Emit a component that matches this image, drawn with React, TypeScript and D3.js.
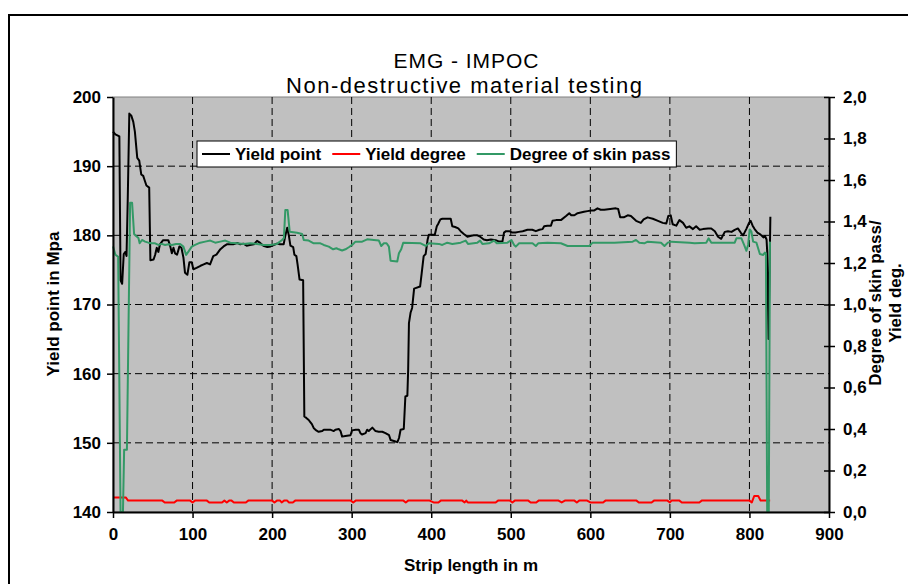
import React, { useRef, useEffect } from "react";
import * as d3 from "d3";

// strip length (m), yield point (Mpa) - left axis
const yieldPoint: [number, number][] = [
  [0, 195.0], [3, 194.6], [8, 194.3], [9.5, 173.5], [11.5, 173.0], [13.5, 177.3], [15.5, 177.6], [17, 177.0],
  [18.5, 185.0], [20.5, 197.6], [23, 197.3], [25.5, 196.4], [27.5, 195.0], [30.5, 191.2], [33, 190.8], [35.5, 188.8],
  [38, 188.6], [40, 187.9], [42, 187.2], [45.5, 186.9], [47, 176.4], [51, 176.5], [53, 177.2], [55, 178.2],
  [57, 177.6], [59, 178.7], [63, 179.3], [69.5, 179.3], [72, 178.4], [74, 177.4], [76, 178.2], [78, 177.4],
  [80.5, 177.2], [83.5, 178.4], [86, 178.2], [88.5, 176.8], [90.5, 174.6], [93.5, 174.3], [96, 176.1], [99, 176.1],
  [101, 175.1], [105, 175.3], [110, 175.6], [114, 175.8], [118, 176.0], [122, 175.8], [126, 177.0], [130, 177.2],
  [135, 178.0], [139, 178.4], [143, 178.7], [151, 178.7], [156, 178.9], [160, 178.7], [164, 178.8], [168, 178.5],
  [172, 178.6], [177, 178.7], [181, 179.2], [185, 178.9], [189, 178.5], [194, 178.3], [198, 178.4], [202, 178.6],
  [206, 178.8], [210, 178.7], [214.5, 178.7], [216.5, 179.9], [219, 181.1], [221, 180.0], [223, 178.5], [226.5, 178.3],
  [228, 177.2], [230.5, 177.0], [232, 175.8], [234.5, 173.6], [239, 173.5], [240.5, 153.8], [243, 153.6], [246, 153.3],
  [248, 153.0], [250, 152.7], [252.5, 152.1], [255.5, 151.8], [258.5, 151.6], [263, 151.7], [265, 151.9], [273, 151.9],
  [277.5, 151.7], [279.5, 151.9], [284, 152.0], [286, 151.7], [288, 150.9], [292, 151.0], [298.5, 151.1], [300.5, 151.8],
  [305, 151.9], [309, 151.9], [311, 151.4], [313, 151.2], [317.5, 151.4], [319.5, 151.9], [321.5, 151.7], [326, 152.2],
  [330, 151.7], [334, 151.6], [338.5, 151.6], [342.5, 151.4], [347, 151.1], [349, 150.4], [355, 150.2], [357.5, 150.1],
  [359.5, 150.7], [361.5, 151.9], [365.5, 152.0], [367.5, 156.7], [370, 156.8], [371, 160.5], [372, 167.3], [374, 168.8],
  [376, 169.5], [378.5, 172.3], [386, 172.6], [388, 174.5], [390.5, 177.0], [393, 177.3], [395.5, 179.4], [397, 180.1],
  [404.5, 180.1], [407, 181.3], [408.5, 181.6], [411.5, 182.3], [414, 182.4], [424.5, 182.4], [426.5, 181.3], [430, 181.2],
  [434, 181.0], [437, 180.6], [441, 180.2], [445.5, 179.8], [449, 179.9], [453.5, 180.0], [458, 180.0], [461.5, 179.8],
  [466, 179.4], [470, 179.3], [475, 179.4], [481, 179.3], [485.5, 179.1], [489.5, 179.1], [491.5, 180.4], [494, 180.6],
  [498, 180.6], [502, 180.4], [506, 180.4], [510, 180.5], [515, 180.6], [521, 180.8], [527, 180.8], [531.5, 180.6],
  [536, 180.8], [540, 180.9], [542, 181.3], [546, 181.4], [550.5, 181.4], [552.5, 182.1], [557, 182.2], [563, 182.2],
  [569.5, 182.8], [573.5, 183.2], [576, 182.9], [580, 182.9], [584, 183.2], [588, 183.3], [592, 183.4], [596.5, 183.5],
  [601, 183.6], [605, 183.6], [609, 183.9], [613, 183.7], [617.5, 183.7], [625, 183.8], [632, 183.9], [635, 183.8],
  [637.5, 182.6], [642, 182.6], [647, 182.9], [651, 182.8], [657.5, 182.1], [663.5, 181.8], [667, 182.3], [672, 182.6],
  [678.5, 182.4], [685, 182.1], [691, 181.8], [695.5, 181.7], [698, 182.8], [701, 182.9], [703.5, 181.6], [708, 181.4],
  [712, 182.2], [716.5, 181.8], [720.5, 181.1], [724.5, 181.3], [729, 180.9], [733, 181.3], [737.5, 180.8], [741.5, 180.9],
  [748, 181.0], [752, 181.0], [756.5, 180.6], [760.5, 179.8], [764.5, 179.5], [769, 180.5], [773, 180.6], [777.5, 180.5],
  [781.5, 180.8], [785.5, 181.0], [789, 180.4], [792, 180.0], [796, 180.9], [799.5, 181.8], [801.5, 182.1], [804, 181.4],
  [806.5, 180.9], [810, 180.4], [814, 180.1], [817.5, 179.7], [819.5, 179.9], [821.5, 179.4], [822.3, 177.7], [824, 165.0],
  [826.3, 182.7],
];

// strip length (m), yield degree - right axis
const yieldDegree: [number, number][] = [
  [0, 0.07], [16, 0.07], [19, 0.055], [62, 0.055], [65, 0.046], [77, 0.046], [80, 0.055], [97, 0.055],
  [100, 0.046], [103, 0.055], [118, 0.055], [121, 0.046], [137, 0.046], [140, 0.055], [143, 0.046], [146, 0.055],
  [149, 0.055], [152, 0.046], [167, 0.046], [170, 0.055], [200, 0.055], [203, 0.046], [206, 0.055], [210, 0.055],
  [212, 0.046], [215, 0.055], [219, 0.055], [221, 0.046], [226, 0.046], [229, 0.055], [299, 0.055], [302, 0.046],
  [305, 0.055], [365, 0.055], [368, 0.046], [371, 0.055], [398, 0.055], [403, 0.046], [409, 0.046], [412, 0.055],
  [439, 0.055], [442, 0.046], [444, 0.055], [446, 0.046], [481, 0.046], [484, 0.055], [499, 0.055], [502, 0.046],
  [505, 0.055], [522, 0.055], [525, 0.046], [532, 0.046], [535, 0.055], [560, 0.055], [564, 0.046], [568, 0.055],
  [580, 0.055], [583, 0.046], [586, 0.055], [596, 0.055], [600, 0.046], [616, 0.046], [619, 0.055], [658, 0.055],
  [661, 0.046], [677, 0.046], [680, 0.055], [697, 0.055], [700, 0.046], [702, 0.055], [712, 0.055], [715, 0.046],
  [737, 0.046], [740, 0.055], [800, 0.055], [803, 0.046], [806, 0.077], [811, 0.077], [814, 0.055], [826, 0.055],
];

// strip length (m), degree of skin pass - right axis
const skinPass: [number, number][] = [
  [0, 1.28], [3, 1.24], [6.5, 1.23], [9.5, 0], [12.5, 0], [14, 0.3], [17.5, 0.3], [21.5, 1.49],
  [24, 1.49], [26.5, 1.34], [29, 1.33], [32, 1.32], [33.5, 1.295], [36.5, 1.311], [40.3, 1.303], [44.5, 1.298],
  [48.7, 1.295], [52.9, 1.295], [57, 1.287], [61.3, 1.292], [65.5, 1.287], [69.7, 1.29], [73.9, 1.287], [79.3, 1.292],
  [84.4, 1.292], [88.5, 1.279], [91.9, 1.239], [94.8, 1.255], [99, 1.279], [103.2, 1.287], [109.6, 1.298], [115.9, 1.303],
  [122.2, 1.308], [128.5, 1.298], [134.8, 1.303], [141.1, 1.308], [147.4, 1.298], [155.8, 1.295], [164.2, 1.292], [172.6, 1.295],
  [181, 1.292], [189.4, 1.287], [197.8, 1.287], [206.1, 1.292], [212.5, 1.311], [214.8, 1.32], [216.6, 1.455], [219.5, 1.455],
  [222.1, 1.351], [231.4, 1.346], [237.7, 1.34], [239.8, 1.311], [246, 1.308], [252.3, 1.295], [260.7, 1.295], [264.9, 1.287],
  [271.2, 1.279], [276.7, 1.266], [280.9, 1.271], [283.8, 1.266], [288, 1.26], [292.2, 1.266], [296.4, 1.276], [300.6, 1.287],
  [304.8, 1.303], [313.2, 1.303], [319.5, 1.314], [327.9, 1.311], [334.2, 1.308], [337.2, 1.282], [340.5, 1.295], [343.9, 1.295],
  [346.8, 1.279], [348.9, 1.211], [357.3, 1.207], [359.4, 1.247], [362.3, 1.266], [364.8, 1.298], [386.7, 1.295], [393, 1.282],
  [397.1, 1.295], [409.7, 1.292], [413.9, 1.287], [420.2, 1.298], [426.5, 1.292], [437, 1.298], [443.3, 1.308], [446.2, 1.292],
  [458, 1.298], [461.4, 1.308], [464.3, 1.292], [472.7, 1.295], [479, 1.308], [482.4, 1.295], [495.8, 1.298], [500.8, 1.311],
  [504.2, 1.287], [506.3, 1.279], [510.5, 1.295], [527.3, 1.295], [531.5, 1.282], [534.5, 1.295], [546.2, 1.298], [563, 1.295],
  [571.4, 1.282], [598.7, 1.282], [602.9, 1.298], [630.2, 1.298], [653.2, 1.303], [657.4, 1.311], [661.6, 1.298], [667.9, 1.295],
  [672.1, 1.303], [688.9, 1.298], [693.2, 1.282], [697.4, 1.298], [701.6, 1.303], [724.7, 1.298], [731, 1.295], [745.7, 1.298],
  [748.7, 1.319], [752.1, 1.298], [781.5, 1.298], [783.6, 1.319], [789.9, 1.319], [793.3, 1.287], [796.2, 1.259], [798.3, 1.287],
  [800.4, 1.362], [802.5, 1.351], [804.6, 1.303], [808.8, 1.298], [810.9, 1.271], [813.1, 1.243], [817.3, 1.239], [819.4, 1.25],
  [820.7, 1.247], [822.3, 0], [824.3, 0], [825.8, 1.303],
];

const lengthTicks = [0, 100, 200, 300, 400, 500, 600, 700, 800, 900];
const mpaTicks = [140, 150, 160, 170, 180, 190, 200];
const ratioTicks = [0, 0.2, 0.4, 0.6, 0.8, 1.0, 1.2, 1.4, 1.6, 1.8, 2.0];

const seriesInfo = [
  { name: "Yield point", color: "#000000", axis: "left", data: yieldPoint },
  { name: "Yield degree", color: "#ff0000", axis: "right", data: yieldDegree },
  { name: "Degree of skin pass", color: "#339966", axis: "right", data: skinPass },
];

const FONT = "'Liberation Sans', Arial, sans-serif";

const App = () => {
  const svgRef = useRef<SVGSVGElement>(null);

  useEffect(() => {
    const width = 908, height = 584;
    const left = 113, right = 829, top = 97, bottom = 512;

    const svg = d3.select(svgRef.current)
      .attr("width", width)
      .attr("height", height)
      .style("font-family", FONT);

    svg.selectAll("*").remove();

    const x = d3.scaleLinear().domain([0, 900]).range([left, right]);
    const yLeft = d3.scaleLinear().domain([140, 200]).range([bottom, top]);
    const yRight = d3.scaleLinear().domain([0, 2]).range([bottom, top]);

    // outer frame
    svg.append("rect")
      .attr("x", 9).attr("y", 15)
      .attr("width", 1000).attr("height", 1000)
      .attr("fill", "#fff")
      .attr("stroke", "#000")
      .attr("stroke-width", 2);

    // plot area
    svg.append("rect")
      .attr("x", left).attr("y", top)
      .attr("width", right - left).attr("height", bottom - top)
      .attr("fill", "#c0c0c0")
      .attr("stroke", "#808080")
      .attr("stroke-width", 1);

    // grid
    svg.append("g")
      .selectAll("line")
      .data(lengthTicks.slice(1, -1))
      .enter().append("line")
      .attr("x1", d => x(d)).attr("x2", d => x(d))
      .attr("y1", top).attr("y2", bottom)
      .attr("stroke", "#000")
      .attr("stroke-dasharray", "7,4");

    svg.append("g")
      .selectAll("line")
      .data(mpaTicks.slice(1, -1))
      .enter().append("line")
      .attr("x1", left).attr("x2", right)
      .attr("y1", d => yLeft(d)).attr("y2", d => yLeft(d))
      .attr("stroke", "#000")
      .attr("stroke-dasharray", "7,4");

    // series
    seriesInfo.forEach(s => {
      const yScale = s.axis === "left" ? yLeft : yRight;
      const line = d3.line<[number, number]>()
        .x(d => x(d[0]))
        .y(d => yScale(d[1]));
      svg.append("path")
        .datum(s.data)
        .attr("fill", "none")
        .attr("stroke", s.color)
        .attr("stroke-width", 2)
        .attr("stroke-linejoin", "round")
        .attr("d", line);
    });

    const styleAxis = (g: any) => {
      g.select(".domain").attr("stroke", "#000").attr("stroke-width", 2);
      g.selectAll(".tick line").attr("stroke", "#000").attr("stroke-width", 1.5);
      g.selectAll(".tick text")
        .attr("fill", "#000")
        .style("font-family", FONT)
        .style("font-size", "17px")
        .style("font-weight", "bold");
    };

    // X axis
    svg.append("g")
      .attr("transform", `translate(0,${bottom})`)
      .call(d3.axisBottom(x).tickValues(lengthTicks).tickSizeInner(6).tickSizeOuter(0).tickPadding(10))
      .call(styleAxis);

    // left axis
    svg.append("g")
      .attr("transform", `translate(${left},0)`)
      .call(d3.axisLeft(yLeft).tickValues(mpaTicks).tickSizeInner(6).tickSizeOuter(0).tickPadding(6))
      .call(styleAxis);

    // right axis
    const fmt = d3.format(".1f");
    svg.append("g")
      .attr("transform", `translate(${right},0)`)
      .call(d3.axisRight(yRight).tickValues(ratioTicks).tickSizeInner(6).tickSizeOuter(0).tickPadding(8)
        .tickFormat(d => fmt(d as number).replace(".", ",")))
      .call(styleAxis)
      .selectAll(".tick line").attr("x1", -5);

    // titles
    svg.append("text")
      .attr("x", 466).attr("y", 68)
      .attr("text-anchor", "middle")
      .attr("textLength", 145)
      .style("font-size", "21px")
      .text("EMG - IMPOC");

    svg.append("text")
      .attr("x", 464).attr("y", 93)
      .attr("text-anchor", "middle")
      .attr("textLength", 356)
      .style("font-size", "22px")
      .text("Non-destructive material testing");

    // axis titles
    svg.append("text")
      .attr("x", (left + right) / 2).attr("y", 571)
      .attr("text-anchor", "middle")
      .style("font-size", "17px").style("font-weight", "bold")
      .text("Strip length in m");

    svg.append("text")
      .attr("transform", "translate(59,304) rotate(-90)")
      .attr("text-anchor", "middle")
      .style("font-size", "17px").style("font-weight", "bold")
      .text("Yield point in Mpa");

    svg.append("text")
      .attr("transform", "translate(881,303) rotate(-90)")
      .attr("text-anchor", "middle")
      .style("font-size", "17px").style("font-weight", "bold")
      .text("Degree of skin pass/");

    svg.append("text")
      .attr("transform", "translate(901,303) rotate(-90)")
      .attr("text-anchor", "middle")
      .style("font-size", "17px").style("font-weight", "bold")
      .text("Yield deg.");

    // legend
    const legend = svg.append("g");
    const box = legend.append("rect")
      .attr("x", 197).attr("y", 141)
      .attr("height", 26)
      .attr("fill", "#fff")
      .attr("stroke", "#000")
      .attr("stroke-width", 1);

    let cx = 202;
    seriesInfo.forEach(s => {
      legend.append("line")
        .attr("x1", cx).attr("x2", cx + 28)
        .attr("y1", 154).attr("y2", 154)
        .attr("stroke", s.color)
        .attr("stroke-width", 2);
      const t = legend.append("text")
        .attr("x", cx + 33).attr("y", 160)
        .style("font-size", "17px").style("font-weight", "bold")
        .text(s.name);
      const w = (t.node() as SVGTextElement).getComputedTextLength();
      cx += 33 + w + 11;
    });
    box.attr("width", cx - 5 - 197);
  }, []);

  return (
    <svg ref={svgRef} style={{ position: "absolute", left: 0, top: 0, background: "#fff" }}></svg>
  );
};

export default App;
